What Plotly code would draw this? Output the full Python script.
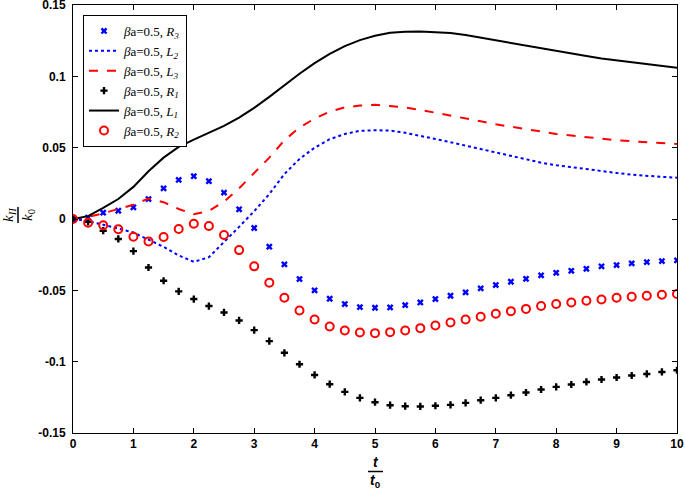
import plotly.graph_objects as go

t = [i * 0.25 for i in range(41)]

R3 = [0, 0.001, 0.0044, 0.0058, 0.0082, 0.014, 0.0215, 0.0274, 0.0300, 0.0265, 0.0185, 0.0068,
      -0.0063, -0.0194, -0.0318, -0.0421, -0.0500, -0.0559, -0.0596, -0.0618, -0.0622, -0.0620,
      -0.0604, -0.0585, -0.0561, -0.0538, -0.0514, -0.0486, -0.0463, -0.0440, -0.0419, -0.0395,
      -0.0377, -0.0363, -0.0349, -0.0332, -0.0323, -0.0311, -0.0302, -0.0295, -0.0290]
L2 = [0, -0.0015, -0.0040, -0.0065, -0.0095, -0.0145, -0.0195, -0.0255, -0.0300, -0.0268, -0.0165,
      -0.0055, 0.0055, 0.0175, 0.0315, 0.0421, 0.0500, 0.0559, 0.0596, 0.0618, 0.0622, 0.0620,
      0.0604, 0.0585, 0.0561, 0.0538, 0.0514, 0.0486, 0.0463, 0.0440, 0.0419, 0.0395,
      0.0377, 0.0363, 0.0349, 0.0332, 0.0323, 0.0311, 0.0302, 0.0295, 0.0290]
L3 = [0, 0.0015, 0.0040, 0.0068, 0.0100, 0.0143, 0.0118, 0.0070, 0.0033, 0.0056, 0.0122, 0.0215,
      0.0320, 0.0430, 0.0552, 0.0641, 0.0704, 0.0753, 0.0782, 0.0795, 0.0800, 0.0793, 0.0782,
      0.0765, 0.0746, 0.0725, 0.0704, 0.0685, 0.0664, 0.0646, 0.0630, 0.0610, 0.0596, 0.0585,
      0.0573, 0.0564, 0.0552, 0.0545, 0.0538, 0.0531, 0.0526]
R1 = [0, -0.0020, -0.0082, -0.0140, -0.0225, -0.0340, -0.0433, -0.0507, -0.0561, -0.0610, -0.0655,
      -0.0711, -0.0779, -0.0856, -0.0938, -0.1018, -0.1093, -0.1158, -0.1212, -0.1254, -0.1284,
      -0.1305, -0.1312, -0.1314, -0.1309, -0.1303, -0.1289, -0.1270, -0.1254, -0.1235, -0.1216,
      -0.1195, -0.1177, -0.1160, -0.1142, -0.1125, -0.1111, -0.1097, -0.1086, -0.1072, -0.1060]
L1 = [0, 0.0020, 0.0078, 0.0140, 0.0225, 0.0335, 0.0430, 0.0505, 0.0556, 0.0605, 0.0652,
      0.0711, 0.0779, 0.0856, 0.0938, 0.1018, 0.1093, 0.1158, 0.1212, 0.1254, 0.1284,
      0.1305, 0.1312, 0.1314, 0.1309, 0.1303, 0.1289, 0.1270, 0.1254, 0.1235, 0.1216,
      0.1195, 0.1177, 0.1160, 0.1142, 0.1125, 0.1111, 0.1097, 0.1086, 0.1072, 0.1060]
R2 = [0, -0.0026, -0.0044, -0.0072, -0.0124, -0.0157, -0.0126, -0.0070, -0.0033, -0.0049, -0.0112,
      -0.0218, -0.0332, -0.0447, -0.0552, -0.0641, -0.0704, -0.0753, -0.0782, -0.0795, -0.0800,
      -0.0793, -0.0782, -0.0765, -0.0746, -0.0725, -0.0704, -0.0685, -0.0664, -0.0646, -0.0630,
      -0.0610, -0.0596, -0.0585, -0.0573, -0.0564, -0.0552, -0.0545, -0.0538, -0.0531, -0.0526]

names = ["<i>β</i>a=0.5, <i>R</i><sub><i>3</i></sub>",
         "<i>β</i>a=0.5, <i>L</i><sub><i>2</i></sub>",
         "<i>β</i>a=0.5, <i>L</i><sub><i>3</i></sub>",
         "<i>β</i>a=0.5, <i>R</i><sub><i>1</i></sub>",
         "<i>β</i>a=0.5, <i>L</i><sub><i>1</i></sub>",
         "<i>β</i>a=0.5, <i>R</i><sub><i>2</i></sub>"]

xticks = list(range(11))
yticks = [0.15, 0.1, 0.05, 0, -0.05, -0.1, -0.15]
yticklabels = ["0.15", "0.1", "0.05", "0", "-0.05", "-0.1", "-0.15"]

fig = go.Figure()
fig.add_trace(go.Scatter(x=t, y=R3, mode="markers", name=names[0],
                         marker=dict(symbol="x", size=6, color="#0000ff", line=dict(width=0))))
fig.add_trace(go.Scatter(x=t, y=L2, mode="lines", name=names[1],
                         line=dict(color="#0000ff", width=2, dash="dot")))
fig.add_trace(go.Scatter(x=t, y=L3, mode="lines", name=names[2],
                         line=dict(color="#ff0000", width=2, dash="dash")))
fig.add_trace(go.Scatter(x=t, y=R1, mode="markers", name=names[3],
                         marker=dict(symbol="cross", size=6, color="#000000", line=dict(width=0))))
fig.add_trace(go.Scatter(x=t, y=L1, mode="lines", name=names[4],
                         line=dict(color="#000000", width=2)))
fig.add_trace(go.Scatter(x=t, y=R2, mode="markers", name=names[5],
                         marker=dict(symbol="circle-open", size=8, color="#ff0000",
                                     line=dict(width=2, color="#ff0000"))))

L, R, T, B = 73, 8, 5, 57
W, H = 685, 490
pw, ph = W - L - R, H - T - B

def px(x):
    return (x - L) / pw

def py(y):
    return (H - B - y) / ph

axis_common = dict(showgrid=False, zeroline=False, showline=True, linecolor="black",
                   linewidth=1, mirror="ticks", ticks="inside", ticklen=5,
                   tickcolor="black", automargin=False, ticklabeloverflow="allow",
                   tickfont=dict(family="Liberation Sans", size=12, color="black", weight="bold"))

fig.update_xaxes(range=[0, 10], tickvals=xticks, ticktext=[str(v) for v in xticks], **axis_common)
fig.update_yaxes(range=[-0.15, 0.15], tickvals=yticks, ticktext=yticklabels,
                 ticklabelstandoff=4, **axis_common)

serif = dict(family="Liberation Serif", size=15, color="black")
fig.add_annotation(x=px(9), y=py(215), xref="paper", yref="paper", text="<i>k</i><sub><i>II</i></sub>",
                   textangle=-90, showarrow=False, font=serif, xanchor="center", yanchor="middle")
fig.add_annotation(x=px(28), y=py(215), xref="paper", yref="paper", text="<i>k</i><sub>0</sub>",
                   textangle=-90, showarrow=False, font=serif, xanchor="center", yanchor="middle")
fig.add_shape(type="line", xref="paper", yref="paper", x0=px(18), x1=px(18),
              y0=py(207), y1=py(223), line=dict(color="black", width=1.5))

bold = dict(family="Liberation Sans", size=14, color="black", weight="bold")
fig.add_annotation(x=px(375.5), y=py(462), xref="paper", yref="paper", text="<i>t</i>",
                   showarrow=False, font=bold, xanchor="center", yanchor="middle")
fig.add_annotation(x=px(375.5), y=py(481), xref="paper", yref="paper", text="<i>t</i><sub>0</sub>",
                   showarrow=False, font=bold, xanchor="center", yanchor="middle")
fig.add_shape(type="line", xref="paper", yref="paper", x0=px(368), x1=px(383),
              y0=py(471.5), y1=py(471.5), line=dict(color="black", width=1.5))

fig.update_layout(
    width=W, height=H,
    margin=dict(l=L, r=R, t=T, b=B, autoexpand=False),
    paper_bgcolor="white", plot_bgcolor="white",
    legend=dict(x=px(83), y=py(15), xanchor="left", yanchor="top",
                bgcolor="white", bordercolor="black", borderwidth=1,
                font=dict(family="Liberation Serif", size=13, color="black"),
                itemwidth=30, tracegroupgap=0),
    showlegend=True,
)

fig.write_html("out.html", config={"displayModeBar": False},
               post_script="document.body.style.margin='0';document.body.style.padding='0';")
